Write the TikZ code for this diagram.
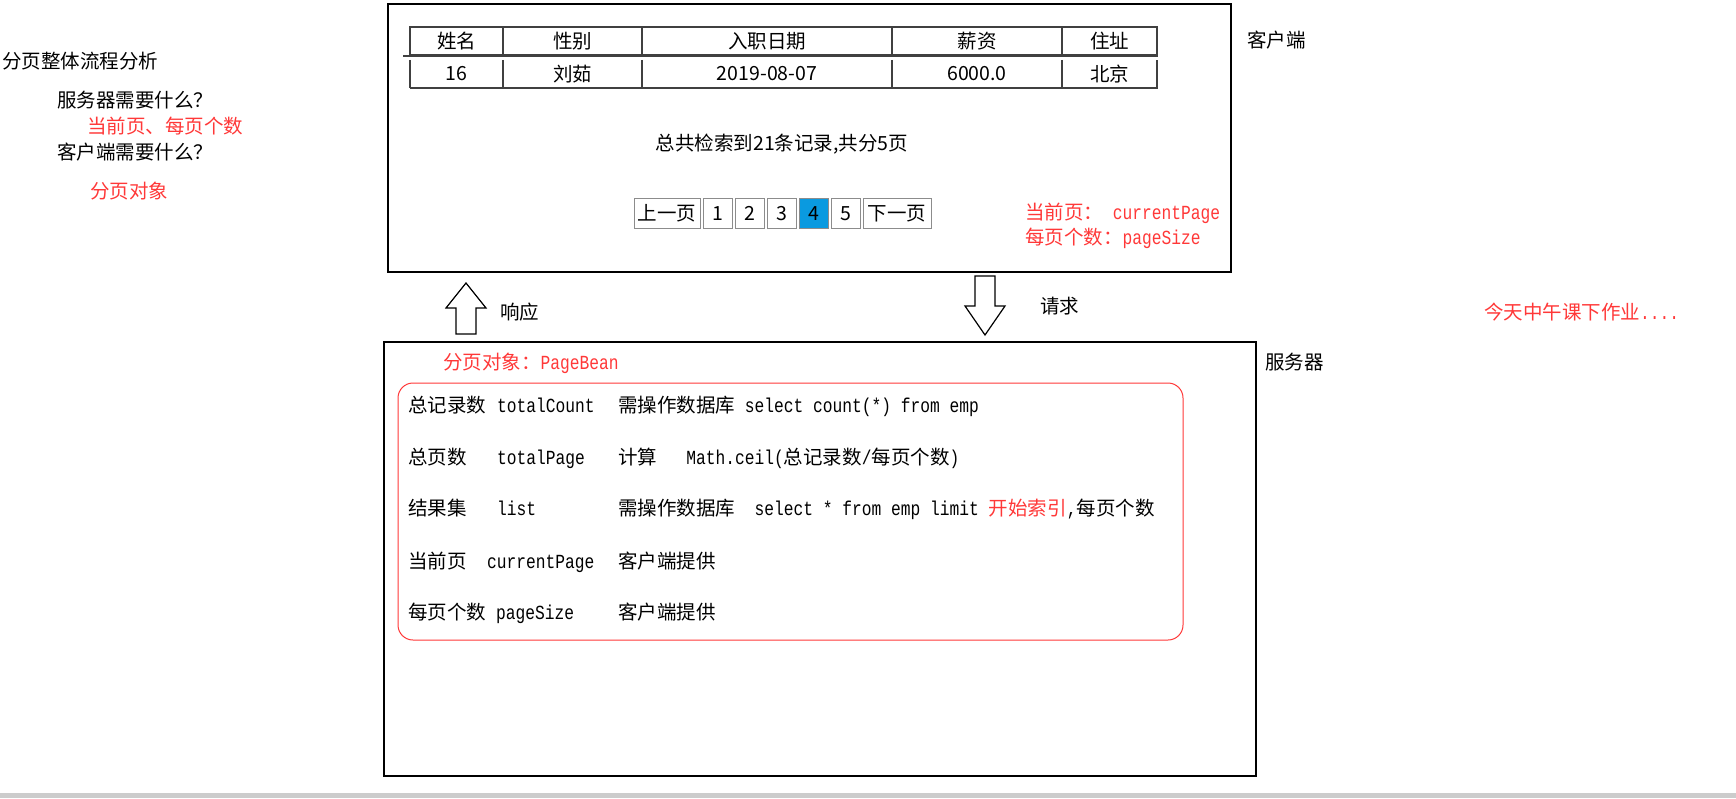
\documentclass[tikz,border=0pt]{standalone}
\usepackage{fontspec}
\setmainfont{Noto Sans CJK SC}
\setmonofont[FakeStretch=0.8125]{Liberation Mono}
\usepackage{xcolor}
\usepackage{tikz}
\usetikzlibrary{positioning}
\definecolor{hot}{HTML}{FF3838}
\definecolor{cur}{HTML}{0A9AE0}
\newcommand\zh{\fontsize{19.5}{23}\selectfont}
\newcommand\mn{\fontsize{20}{23}\selectfont\ttfamily}
\newcommand\tcode[1]{{\mn #1}}
\tikzset{
  box/.style={draw,line width=1.3pt,inner sep=0pt},
  th/.style={draw=black!75,line width=1.5pt,minimum height=28pt,inner sep=0pt,font=\zh},
  td/.style={minimum height=28pt,inner sep=0pt,font=\zh},
  tline/.style={draw=black!75,line width=1.5pt},
  pg/.style={draw=black!45,line width=1pt,minimum width=29pt,minimum height=30pt,inner sep=0pt,font=\zh},
  pgon/.style={pg,fill=cur},
  txt/.style={anchor=base west,inner sep=0pt,font=\zh},
  blk/.style={draw,fill=white,line width=1.2pt,line join=miter},
}
\begin{document}
\begin{tikzpicture}[x=1pt,y=-1pt]
\useasboundingbox (0,0) rectangle (1736,798);
\fill[black!20] (0,793) rectangle (1736,798);
% left notes
\node[txt] (title) at (2,68) {分页整体流程分析};
\node[txt] (q1) at (57,107) {服务器需要什么？};
\node[txt,text=hot] (a1) at (87,133) {当前页、每页个数};
\node[txt] (q2) at (57,159) {客户端需要什么？};
\node[txt,text=hot] (a2) at (90,198) {分页对象};
% client side
\node[box,minimum width=843pt,minimum height=268pt] (client) at (809.5,138) {};
\node[txt] (clbl) at (1247,47) {客户端};
\foreach \a/\b/\h/\d [count=\i] in {410/503/姓名/16,503/642/性别/刘茹,642/892/入职日期/2019-08-07,892/1062/薪资/6000.0,1062/1157/住址/北京} {
  \node[th,minimum width={(\b-\a)*1pt}] (h\i) at ({(\a+\b)/2},41) {\h};
  \node[td,minimum width={(\b-\a)*1pt}] (d\i) at ({(\a+\b)/2},74) {\d};
  \draw[tline] (d\i.north west) -- (d\i.south west);
}
\draw[tline] ([xshift=-6pt]h1.south west) -- (h5.south east);
\draw[tline] (d1.south west) -- (d5.south east) -- (d5.north east);
\node[font=\zh,inner sep=0pt] (sum) at (782,144) {总共检索到21条记录,共分5页};
\node[pg,minimum width=66pt] (pprev) at (667,213.5) {上一页};
\foreach \n/\m/\s in {1/pprev/pg,2/p1/pg,3/p2/pg,4/p3/pgon,5/p4/pg} {\node[\s,right=2pt of \m] (p\n) {\n};}
\node[pg,minimum width=68pt,right=2pt of p5] (pnext) {下一页};
\node[txt,text=hot] (n1) at (1025,219) {当前页：\tcode{~currentPage}};
\node[txt,text=hot] (n2) at (1025,244) {每页个数：\tcode{pageSize}};
% response / request
\draw[blk] (456,334) -- (456,308) -- (446,308) -- (466,283) -- (486,308) -- (476,308) -- (476,334) -- cycle;
\node[txt] (resp) at (500,319) {响应};
\draw[blk] (975,276) -- (975,306) -- (965,306) -- (985,335) -- (1005,306) -- (995,306) -- (995,276) -- cycle;
\node[txt] (req) at (1040,313) {请求};
\node[txt,text=hot] (todo) at (1484,319) {今天中午课下作业\tcode{....}};
% server side
\node[box,minimum width=872pt,minimum height=434pt] (server) at (820,559) {};
\node[txt] (slbl) at (1265,369) {服务器};
\node[txt,text=hot] (bean) at (443,369) {分页对象：\tcode{PageBean}};
\node[draw=hot,line width=1pt,rounded corners=15pt,minimum width=785pt,minimum height=257pt] (fields) at (790.5,511.5) {};
\foreach \y/\a/\x/\b/\c [count=\i] in {
  412/总记录数/497/totalCount/{需操作数据库\tcode{~select count(*) from emp}},
  464/总页数/497/totalPage/{计算\tcode{~~~Math.ceil(}总记录数\tcode{/}每页个数\tcode{)}},
  515/结果集/497/list/{需操作数据库\tcode{~~select * from emp limit~}\textcolor{hot}{开始索引}\tcode{,}每页个数},
  568/当前页/487/currentPage/客户端提供,
  619/每页个数/496/pageSize/客户端提供} {
  \node[txt] (r\i a) at (408,\y) {\a};
  \node[txt,font=\mn] (r\i b) at (\x,\y) {\b};
  \node[txt] (r\i c) at (618,\y) {\c};
}
\end{tikzpicture}
\end{document}
